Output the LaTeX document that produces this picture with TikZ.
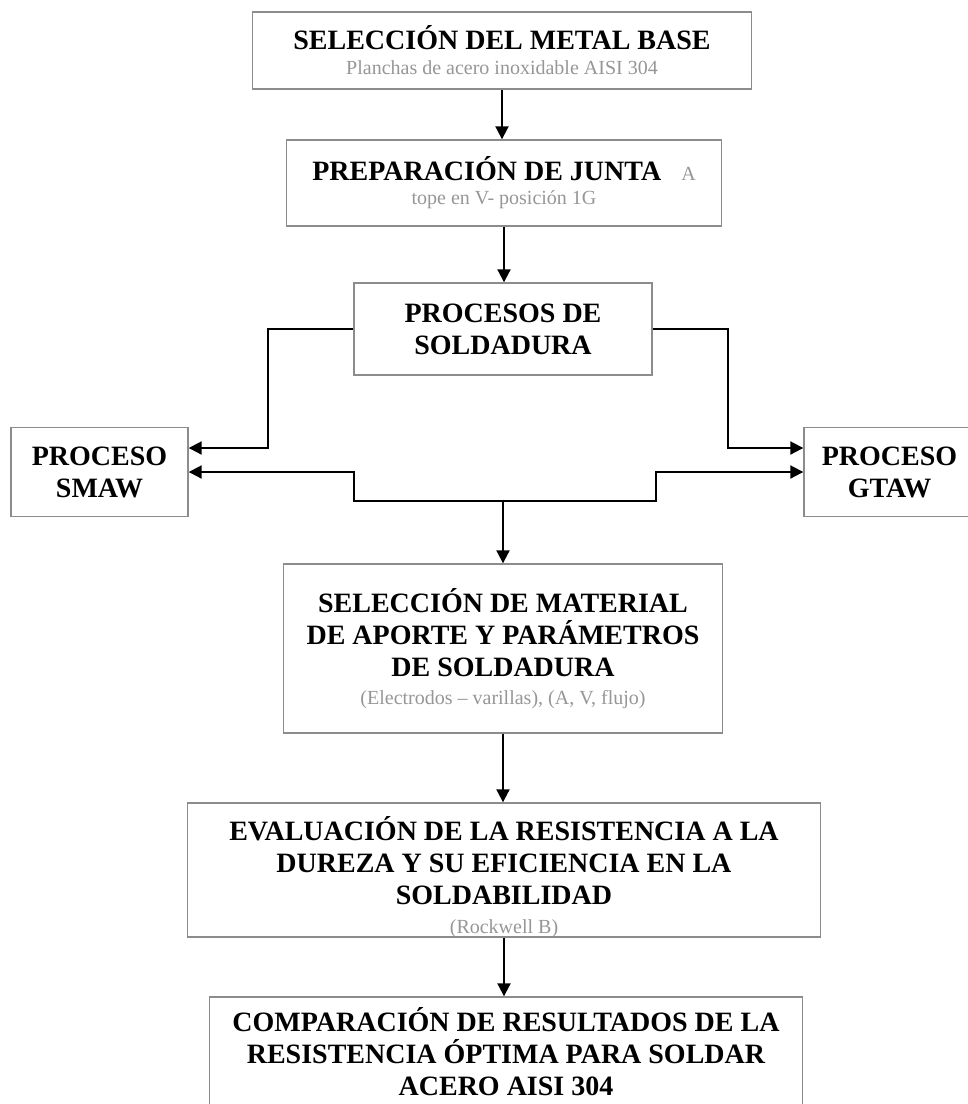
\documentclass[tikz,border=0pt]{standalone}
\usepackage{fontspec}
\setmainfont{Liberation Serif}
\usetikzlibrary{arrows.meta}
\definecolor{boxgray}{HTML}{8C8C8C}
\definecolor{subgray}{HTML}{969696}
\newcommand{\subtxt}[1]{{\fontsize{20}{24}\selectfont\mdseries\color{subgray}#1}}

\begin{document}
\begin{tikzpicture}
[
    x=1pt, y=-1pt,
    box/.style={draw=boxgray, line width=1.4pt, inner sep=0pt, align=center,
        font=\fontsize{28}{32}\selectfont\bfseries},
    flow/.style={line width=2pt, -{Triangle[length=13pt, width=13pt]}},
]
\useasboundingbox (0,0) rectangle (968,1104);
\node [box, minimum width=499pt, minimum height=77pt] (metal) at (502,50.5)
{SELECCIÓN DEL METAL BASE\\[-7pt]\subtxt{Planchas de acero inoxidable AISI 304}};
\node [box, minimum width=435pt, minimum height=86pt] (junta) at (504,183)
{PREPARACIÓN DE JUNTA\hspace{20pt}\subtxt{A}\\[-8pt]\subtxt{tope en V- posición 1G}};
\node [box, minimum width=298pt, minimum height=92pt] (procesos) at (503,329)
{PROCESOS DE\\SOLDADURA};
\node [box, minimum width=177pt, minimum height=89pt] (smaw) at (99.5,472)
{PROCESO\\SMAW};
\node [box, minimum width=171pt, minimum height=89pt] (gtaw) at (889.5,472)
{PROCESO\\GTAW};
\node [box, minimum width=439pt, minimum height=169pt] (aporte) at (503,648.5)
{SELECCIÓN DE MATERIAL\\DE APORTE Y PARÁMETROS\\DE SOLDADURA\\[-4pt]%
\subtxt{(Electrodos -- varillas), (A, V, flujo)}};
\node [box, minimum width=633pt, minimum height=134pt] (dureza) at (504,870)
{EVALUACIÓN DE LA RESISTENCIA A LA\\DUREZA Y SU EFICIENCIA EN LA\\SOLDABILIDAD\\[-18pt]%
\subtxt{\phantom{(Rockwell B)}}};
\begin{scope}
\clip (dureza.north west) rectangle (dureza.south east);
\node [anchor=base, inner sep=0pt] (rockwell) at ([yshift=4pt]dureza.south)
{\subtxt{(Rockwell B)}};
\end{scope}
\node [box, minimum width=593pt, minimum height=110pt] (comparacion) at (506,1052)
{COMPARACIÓN DE RESULTADOS DE LA\\RESISTENCIA ÓPTIMA PARA SOLDAR\\ACERO AISI 304};

\coordinate (lbend) at (268,448);
\coordinate (rbend) at (728,448);
\coordinate (join) at (503,501);
\coordinate (lstep) at (354,501);
\coordinate (rstep) at (656,501);
\draw [flow] (metal.south) -- (metal.south |- junta.north);
\draw [flow] (junta.south) -- (junta.south |- procesos.north);
\draw [flow] (procesos.west) -| (lbend) -- (lbend -| smaw.east);
\draw [flow] (procesos.east) -| (rbend) -- (rbend -| gtaw.west);
\draw [flow] (join) -- (lstep) |- (smaw.east);
\draw [flow] (join) -- (rstep) |- (gtaw.west);
\draw [flow] (join) -- (join |- aporte.north);
\draw [flow] (aporte.south) -- (aporte.south |- dureza.north);
\draw [flow] (dureza.south) -- (dureza.south |- comparacion.north);
\end{tikzpicture}
\end{document}
